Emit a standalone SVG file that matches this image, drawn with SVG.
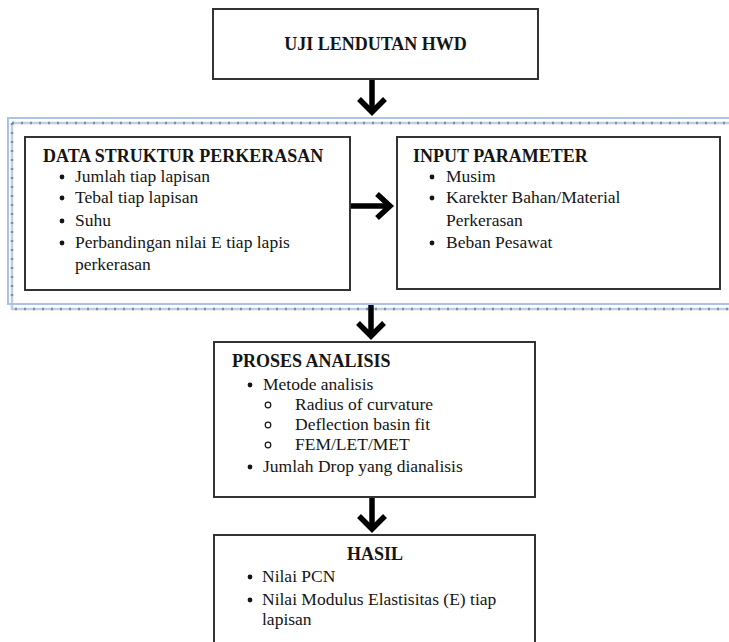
<svg xmlns="http://www.w3.org/2000/svg" width="729" height="642" viewBox="0 0 729 642">
<style>
.box{fill:#fff;stroke:#333;stroke-width:2}
.t{font-family:"Liberation Serif","Times New Roman",serif;font-size:17.5px;fill:#151515}
.b{font-weight:bold;font-size:18px}
.dot{fill:#151515}
.ring{fill:none;stroke:#151515;stroke-width:1.2}
.shaft{stroke:#000;stroke-width:5.5;fill:none}
.head{stroke:#000;stroke-width:5.5;fill:none;stroke-linejoin:miter;stroke-linecap:butt}
.fb{stroke:#a9c4e6;stroke-width:2;fill:none}
.fd{stroke:#c3cddb;stroke-width:2.5;fill:none}
.fdt{stroke:#7f8ea3;stroke-width:2.5;fill:none;stroke-dasharray:2 7}
</style>
<rect width="729" height="642" fill="#fff"/>
<g id="frame">
<path class="fd" d="M12 123 H740 M12 123 V309 H740"/>
<path class="fdt" d="M12 123 H740 M12 123 V309 H740"/>
<path class="fb" d="M740 118 H8 V304 H740"/>
</g>
<g id="uji">
<rect class="box" x="213" y="9" width="325" height="70"/>
<text class="t b" x="375.5" y="50" text-anchor="middle">UJI LENDUTAN HWD</text>
</g>
<g id="data">
<rect class="box" x="25" y="137" width="325" height="153"/>
<text class="t b" x="43" y="162">DATA STRUKTUR PERKERASAN</text>
<circle class="dot" cx="62" cy="177" r="2.4"/>
<text class="t" x="75" y="182">Jumlah tiap lapisan</text>
<circle class="dot" cx="62" cy="198" r="2.4"/>
<text class="t" x="75" y="203">Tebal tiap lapisan</text>
<circle class="dot" cx="62" cy="221" r="2.4"/>
<text class="t" x="75" y="226">Suhu</text>
<circle class="dot" cx="62" cy="243" r="2.4"/>
<text class="t" x="75" y="248">Perbandingan nilai E tiap lapis</text>
<text class="t" x="75" y="270">perkerasan</text>
</g>
<g id="input">
<rect class="box" x="397" y="137" width="323" height="152"/>
<text class="t b" x="413" y="162">INPUT PARAMETER</text>
<circle class="dot" cx="432" cy="177" r="2.4"/>
<text class="t" x="446" y="182">Musim</text>
<circle class="dot" cx="432" cy="198" r="2.4"/>
<text class="t" x="446" y="203">Karekter Bahan/Material</text>
<text class="t" x="446" y="226">Perkerasan</text>
<circle class="dot" cx="432" cy="243" r="2.4"/>
<text class="t" x="446" y="248">Beban Pesawat</text>
</g>
<g id="proses">
<rect class="box" x="214" y="342" width="321" height="155"/>
<text class="t b" x="232" y="367">PROSES ANALISIS</text>
<circle class="dot" cx="250" cy="385" r="2.4"/>
<text class="t" x="263" y="390">Metode analisis</text>
<circle class="ring" cx="268" cy="405" r="2.8"/>
<text class="t" x="295" y="410">Radius of curvature</text>
<circle class="ring" cx="268" cy="425" r="2.8"/>
<text class="t" x="295" y="430">Deflection basin fit</text>
<circle class="ring" cx="268" cy="445" r="2.8"/>
<text class="t" x="295" y="450">FEM/LET/MET</text>
<circle class="dot" cx="250" cy="467" r="2.4"/>
<text class="t" x="263" y="472">Jumlah Drop yang dianalisis</text>
</g>
<g id="hasil">
<rect class="box" x="214" y="535" width="321" height="120"/>
<text class="t b" x="375" y="560" text-anchor="middle">HASIL</text>
<circle class="dot" cx="250" cy="577" r="2.4"/>
<text class="t" x="262" y="582">Nilai PCN</text>
<circle class="dot" cx="250" cy="600" r="2.4"/>
<text class="t" x="262" y="605">Nilai Modulus Elastisitas (E) tiap</text>
<text class="t" x="262" y="625">lapisan</text>
</g>
<g id="connectors">
<path class="shaft" d="M372 80 V111"/>
<polyline class="head" points="359,99 372,112 385,99"/>
<path class="shaft" d="M371 305 V336"/>
<polyline class="head" points="358,323 371,336 384,323"/>
<path class="shaft" d="M372 498 V529"/>
<polyline class="head" points="359,516 372,529 385,516"/>
<path class="shaft" d="M351 206 H389"/>
<polyline class="head" points="377,194 390,206 377,218"/>
</g>
</svg>
